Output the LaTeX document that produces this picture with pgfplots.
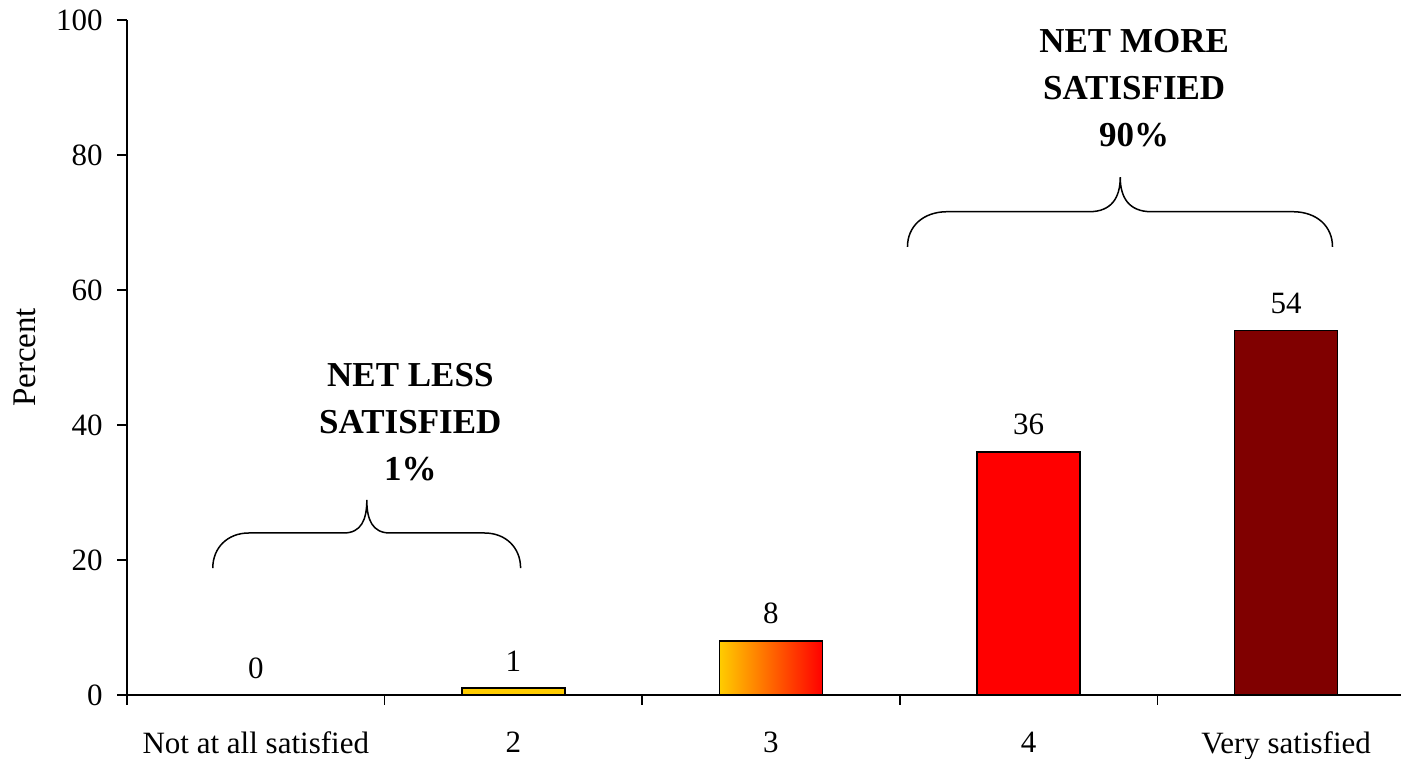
\documentclass[border=0pt]{standalone}
\usepackage{pgfplots}
\pgfplotsset{compat=1.18}
\usepackage{fontspec}
\setmainfont{Liberation Serif}
\definecolor{gold}{RGB}{255,204,0}
\definecolor{brightred}{RGB}{255,0,0}
\definecolor{darkred}{RGB}{128,0,0}
\begin{document}
\fontsize{15.5}{18.6}\selectfont
\begin{tikzpicture}
\path[use as bounding box] (0,0) rectangle (700.5pt,379.5pt);
\begin{axis}[
  at={(63.5pt,32pt)}, anchor=south west,
  scale only axis, width=637pt, height=337.5pt,
  xmin=-0.5, xmax=4.446, ymin=0, ymax=100,
  enlargelimits=false, clip=false,
  axis x line=bottom, axis y line=left,
  axis line style={-, line width=0.75pt, black},
  tick style={line width=0.75pt, black},
  tick align=outside,
  major tick length=4.8pt,
  ytick={0,20,40,60,80,100},
  yticklabel style={xshift=-2pt},
  xtick={-0.5,0.5,1.5,2.5,3.5},
  xticklabels={},
  extra x ticks={0,1,2,3,4},
  extra x tick labels={Not at all satisfied,2,3,4,Very satisfied},
  extra x tick style={major tick length=0pt, xticklabel style={yshift=-13pt}},
  /pgf/number format/assume math mode=true,
  ybar, bar width=0.4,
  nodes near coords,
  nodes near coords style={anchor=south, inner sep=0pt, yshift=8pt, black},
]
\addplot[bar shift=0pt, draw=none, fill=none] coordinates {(0,0)};
\addplot[bar shift=0pt, draw=black, line width=0.75pt, fill=gold] coordinates {(1,1)};
\addplot[bar shift=0pt, draw=black, line width=0.75pt, left color=gold, right color=brightred] coordinates {(2,8)};
\addplot[bar shift=0pt, draw=black, line width=0.75pt, fill=brightred] coordinates {(3,36)};
\addplot[bar shift=0pt, draw=black, line width=0.75pt, fill=darkred] coordinates {(4,54)};

\draw[line width=0.75pt] (axis cs:-0.167,18.8) .. controls (axis cs:-0.167,21.8) and (axis cs:-0.11,24.0) .. (axis cs:-0.027,24.0) -- (axis cs:0.341,24.0) .. controls (axis cs:0.41,24.0) and (axis cs:0.431,26.0) .. (axis cs:0.431,28.9) .. controls (axis cs:0.431,26.0) and (axis cs:0.452,24.0) .. (axis cs:0.521,24.0) -- (axis cs:0.888,24.0) .. controls (axis cs:0.971,24.0) and (axis cs:1.028,21.8) .. (axis cs:1.028,18.8);

\draw[line width=0.75pt] (axis cs:2.53,66.4) .. controls (axis cs:2.53,69.4) and (axis cs:2.59,71.6) .. (axis cs:2.685,71.6) -- (axis cs:3.236,71.6) .. controls (axis cs:3.32,71.6) and (axis cs:3.356,73.6) .. (axis cs:3.356,76.7) .. controls (axis cs:3.356,73.6) and (axis cs:3.392,71.6) .. (axis cs:3.476,71.6) -- (axis cs:4.025,71.6) .. controls (axis cs:4.12,71.6) and (axis cs:4.18,69.4) .. (axis cs:4.18,66.4);

\node[font=\bfseries\fontsize{17.5}{23.5}\selectfont, align=center] at (axis cs:0.60,40.4) {NET LESS\\SATISFIED\\1\%};
\node[font=\bfseries\fontsize{17.5}{23.5}\selectfont, align=center] at (axis cs:3.41,89.9) {NET MORE\\SATISFIED\\90\%};

\node[rotate=90, font=\fontsize{16.5}{19}\selectfont] at ([xshift=-51pt]rel axis cs:0,0.5) {Percent};
\end{axis}
\end{tikzpicture}
\end{document}
